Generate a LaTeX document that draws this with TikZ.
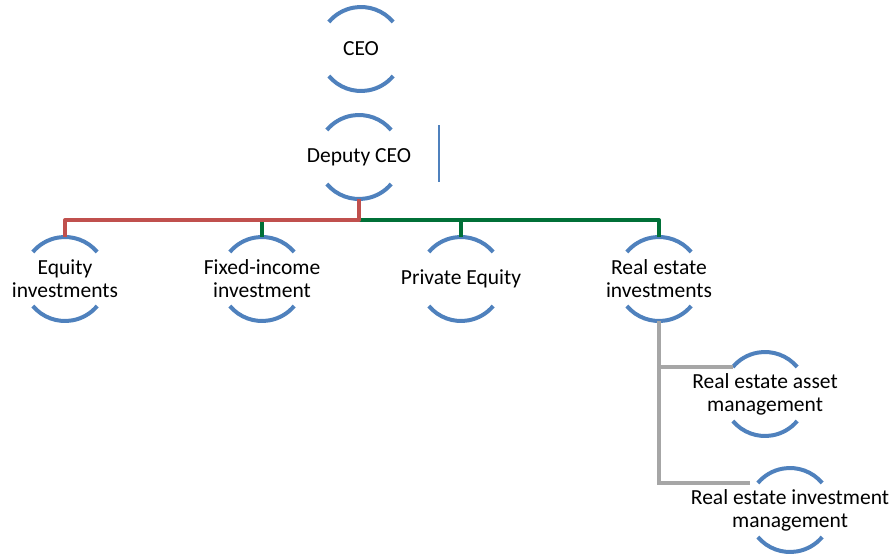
\documentclass[tikz,border=0pt]{standalone}
\usepackage{fontspec}
\setmainfont{Carlito}
\usepackage{xcolor}
\usepackage{tikz}
\usetikzlibrary{calc}
\usetikzlibrary{positioning}
\definecolor{arcblue}{RGB}{79,129,189}
\definecolor{busred}{RGB}{192,80,77}
\definecolor{busgreen}{RGB}{0,112,55}
\definecolor{busgray}{RGB}{166,166,166}

\begin{document}
\begin{tikzpicture}[x=1pt,y=1pt,
	unit/.style={align=center,inner sep=0pt,font=\fontsize{21.5}{23}\selectfont},
	arcline/.style={arcblue,line width=4pt},
	redbus/.style={busred,line width=4pt},
	greenbus/.style={busgreen,line width=4pt},
	graybus/.style={busgray,line width=4pt}]
	\useasboundingbox (0,-554) rectangle (893,0);
	\node[unit] (ceo) at (361,-49) {CEO};
	\node[unit] (dep) at (359,-157) {Deputy CEO};
	\node[unit] (eq) at (65,-279) {Equity\\investments};
	\node[unit] (fi) at (262,-279) {Fixed-income\\investment};
	\node[unit] (pe) at (461,-279) {Private Equity};
	\node[unit] (rei) at (659,-279) {Real estate\\investments};
	\node[unit] (ream) at (765,-394) {Real estate asset\\management};
	\node[unit] (reim) at (790,-510) {Real estate investment\\management};
	% arcs round every unit
	\foreach \n in {ceo,dep,eq,fi,pe,rei,ream,reim}{
		\draw[arcline] ([shift={(40:42pt)}]\n.center) arc[start angle=40,end angle=140,radius=42pt];
		\draw[arcline] ([shift={(220:42pt)}]\n.center) arc[start angle=220,end angle=320,radius=42pt];
		\coordinate (\n-t) at ([yshift=42pt]\n.center);
		\coordinate (\n-b) at ([yshift=-42pt]\n.center);
		\coordinate (\n-l) at ([shift={(140:42pt)}]\n.center);
	}
	\coordinate (bus) at (359,-220);
	\draw[greenbus,line join=round] (dep-b) -- (bus) -| (fi-t);
	\draw[greenbus,line join=round] (bus) -| (pe-t);
	\draw[greenbus,line join=round] (bus) -| (rei-t);
	\draw[redbus,line join=round] (dep-b) -- (bus) -| (eq-t);
	\draw[graybus] (rei-b) |- (ream-l);
	\draw[graybus] (rei-b) |- ([xshift=-8pt]reim-l);
	\draw[arcblue,line width=2pt] (439,-125) -- (439,-182);
\end{tikzpicture}
\end{document}
